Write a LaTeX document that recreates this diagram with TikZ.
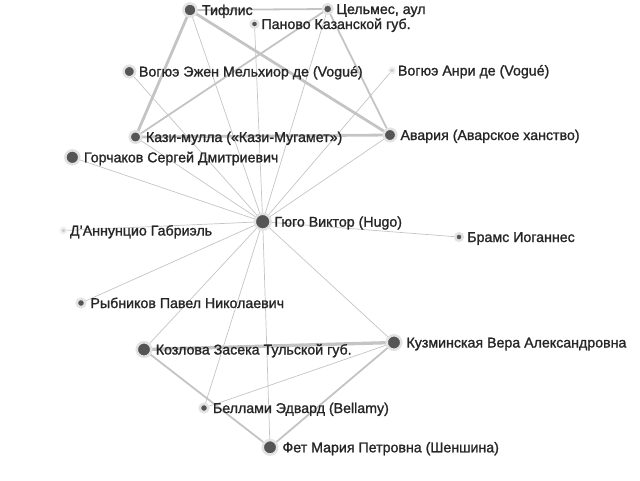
\documentclass[tikz,border=0pt]{standalone}
\usepackage{fontspec}
\setmainfont{Liberation Sans}
\newfontfamily\labfont{Liberation Sans}[RawFeature={embolden=1.3}]
\usetikzlibrary{backgrounds}
\definecolor{dotc}{HTML}{555555}
\definecolor{haloc}{HTML}{E2E2E2}
\definecolor{lightdot}{HTML}{CCCCCC}
\definecolor{lighthalo}{HTML}{EEEEEE}
\definecolor{edgec}{HTML}{C4C4C4}
\definecolor{textc}{HTML}{262626}
\tikzset{
  dot/.style={circle, fill=dotc, draw=haloc, line width=2.5pt, inner sep=0pt, outer sep=0pt, minimum size=#1},
  ldot/.style={circle, fill=lightdot, draw=lighthalo, line width=2pt, inner sep=0pt, outer sep=0pt, minimum size=#1},
  lab/.style={anchor=base west, inner sep=0pt, outer sep=0pt, text=textc, font=\labfont\fontsize{14.2}{16}\selectfont},
  thinedge/.style={draw=edgec, line width=0.7pt},
  medge/.style={draw=edgec, line width=1.8pt},
  tedge/.style={draw=edgec, line width=2.8pt},
}
\begin{document}
\begin{tikzpicture}[x=1pt,y=-1pt]
\useasboundingbox (0,0) rectangle (640,480);
% nodes
\node[dot=13.1] (tif) at (190,10) {};
\node[dot=9.5] (tsel) at (327.7,9) {};
\node[dot=7.5] (pan) at (254.5,24) {};
\node[dot=11.5] (vogE) at (129.3,71.5) {};
\node[ldot=5.6] (vogA) at (392,70.5) {};
\node[dot=11.5] (kazi) at (135.5,137) {};
\node[dot=12.5] (avar) at (390,135) {};
\node[dot=13.9] (gor) at (72.3,157.3) {};
\node[dot=15.9] (hugo) at (262.7,221.7) {};
\node[ldot=5.6] (dann) at (63.5,230.5) {};
\node[dot=7.5] (brams) at (459,237) {};
\node[dot=8.5] (ryb) at (81,303) {};
\node[dot=14.5] (koz) at (144,349.5) {};
\node[dot=14.5] (kuz) at (394,342.5) {};
\node[dot=8.5] (bel) at (204,408) {};
\node[dot=14.5] (fet) at (270,447.3) {};
% labels
\node[lab] (tifL) at (202,15) {Тифлис};
\node[lab] (tselL) at (336.5,14) {Цельмес, аул};
\node[lab] (panL) at (261.5,29) {Паново Казанской губ.};
\node[lab] (vogEL) at (139,76.5) {Вогюэ Эжен Мельхиор де (Vogué)};
\node[lab] (vogAL) at (398,75.5) {Вогюэ Анри де (Vogué)};
\node[lab] (kaziL) at (146,142) {Кази-мулла («Кази-Мугамет»)};
\node[lab] (avarL) at (400.5,140) {Авария (Аварское ханство)};
\node[lab] (gorL) at (84,162.3) {Горчаков Сергей Дмитриевич};
\node[lab] (hugoL) at (274.5,226.7) {Гюго Виктор (Hugo)};
\node[lab] (dannL) at (70,235.5) {Д’Аннунцио Габриэль};
\node[lab] (bramsL) at (467.3,242) {Брамс Иоганнес};
\node[lab] (rybL) at (90.5,308) {Рыбников Павел Николаевич};
\node[lab] (kozL) at (155.8,354.5) {Козлова Засека Тульской губ.};
\node[lab] (kuzL) at (406.5,347.5) {Кузминская Вера Александровна};
\node[lab] (belL) at (213,413) {Беллами Эдвард (Bellamy)};
\node[lab] (fetL) at (282.5,452.3) {Фет Мария Петровна (Шеншина)};
% edges
\begin{scope}[on background layer]
\draw[tedge] (tif.center) -- (kazi.center);
\draw[tedge] (tif.center) -- (avar.center);
\draw[tedge] (kazi.center) -- (avar.center);
\draw[tedge, line width=3.3pt] (koz.center) -- (kuz.center);
\draw[medge] (tif.center) -- (tsel.center);
\draw[medge] (tsel.center) -- (kazi.center);
\draw[medge] (tsel.center) -- (avar.center);
\draw[medge] (koz.center) -- (fet.center);
\draw[medge] (kuz.center) -- (fet.center);
\draw[thinedge] (kuz.center) -- (bel.center);
\foreach \n in {tif,tsel,pan,vogE,vogA,kazi,avar,gor,dann,brams,ryb,koz,kuz,bel,fet}
  \draw[thinedge] (hugo.center) -- (\n.center);
\end{scope}
\end{tikzpicture}
\end{document}
